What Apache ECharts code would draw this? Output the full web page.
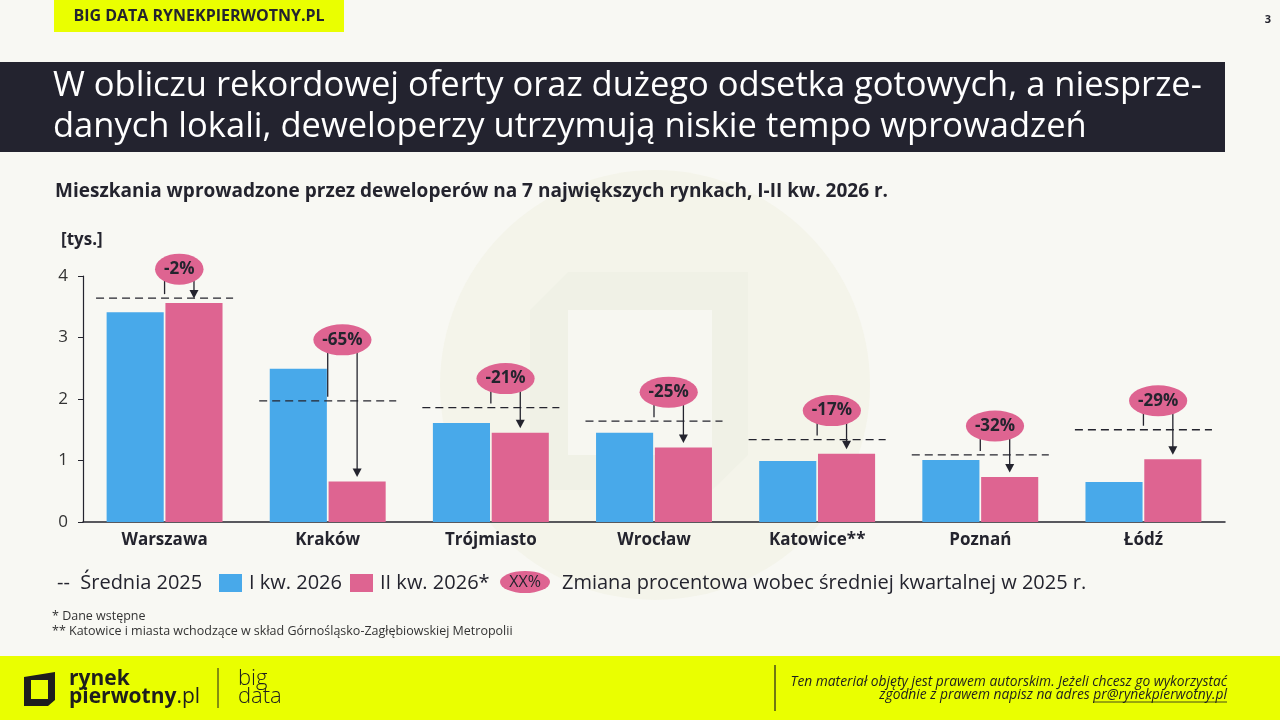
<!DOCTYPE html>
<html><head><meta charset="utf-8">
<script src="https://cdn.jsdelivr.net/npm/echarts@6/dist/echarts.min.js"></script>
<style>html,body{margin:0;padding:0;background:#F8F8F3;}#c{width:1280px;height:720px;}</style>
</head><body><div id="c"></div>
<script>
const categories = ['Warszawa','Kraków','Trójmiasto','Wrocław','Katowice**','Poznań','Łódź'];
const q1_2026 = [3.41, 2.49, 1.61, 1.45, 0.99, 1.01, 0.65];
const q2_2026 = [3.56, 0.66, 1.45, 1.21, 1.11, 0.73, 1.02];
const avg2025 = [3.64, 1.97, 1.86, 1.64, 1.34, 1.09, 1.50];
const changes = ['-2%','-65%','-21%','-25%','-17%','-32%','-29%'];
const yTicks = [0,1,2,3,4];

const FONT = "'Open Sans', 'Noto Sans', sans-serif";
const DARK = '#24242E';
const BLUE = '#48A9EA';
const PINK = '#DE6491';
const YEL = '#EAFF00';

const mctx = document.createElement('canvas').getContext('2d');
function textW(t, f){ mctx.font = f; return mctx.measureText(t).width; }

const chart = echarts.init(document.getElementById('c'));
const annData = categories.map((c,i)=>[i, avg2025[i], q1_2026[i], q2_2026[i]]);

function renderAnn(params, api){
  const i = api.value(0);
  const avg = api.value(1), b = api.value(2), p = api.value(3);
  const c0 = api.coord([i, 0]);
  const band = api.size([1,0])[0];
  const cx = c0[0];
  const bw = band*0.35;
  const pinkX = cx + (bw*1.03)/2;
  const yAvg = api.coord([i, avg])[1];
  const yB = api.coord([i, b])[1];
  const yP = api.coord([i, p])[1];
  const top = Math.min(yAvg, yB, yP);
  const by = top - 29;
  const bx = (cx + pinkX)/2;
  const label = changes[params.dataIndex];
  const f = "bold 17px " + FONT;
  const rx = textW(label, f)/2 + 9;
  const ry = 15.5;
  const stroke = {stroke: DARK, lineWidth: 1.3};
  const children = [
    {type:'line', shape:{x1:cx-band*0.42, y1:yAvg, x2:cx+band*0.42, y2:yAvg}, style:{stroke:DARK, lineWidth:1.3, lineDash:[8,5]}},
    {type:'line', shape:{x1:cx, y1:by, x2:cx, y2:yAvg-4}, style:stroke},
    {type:'line', shape:{x1:pinkX, y1:by, x2:pinkX, y2:yP-11}, style:stroke},
    {type:'polygon', shape:{points:[[pinkX-4.5, yP-13],[pinkX+4.5, yP-13],[pinkX, yP-4.5]]}, style:{fill:DARK}},
    {type:'circle', shape:{cx:0, cy:0, r:ry}, x:bx, y:by, scaleX: rx/ry, style:{fill:PINK}},
    {type:'text', x:bx, y:by, style:{text:label, font:f, fill:DARK, align:'center', verticalAlign:'middle'}}
  ];
  return {type:'group', children};
}

const W = 1280;
const IT = "italic 13.8px " + FONT;
const option = {
  backgroundColor: '#F8F8F3',
  animation: false,
  textStyle: {fontFamily: FONT},
  grid: {left: 83, right: 55, top: 276, bottom: 198, containLabel: false},
  xAxis: {
    type: 'category', data: categories,
    axisLine: {show: true, lineStyle: {color: DARK, width: 1.5}},
    axisTick: {show: false},
    axisLabel: {color: DARK, fontWeight: 'bold', fontSize: 17, margin: 10, fontFamily: FONT}
  },
  yAxis: {
    type: 'value', min: 0, max: 4, interval: 1,
    axisLine: {show: true, lineStyle: {color: DARK, width: 1.2}},
    axisTick: {show: true, length: 5, lineStyle: {color: DARK}},
    splitLine: {show: false},
    axisLabel: {color: '#333', fontSize: 17, margin: 15, fontFamily: FONT,
      formatter: v => yTicks.includes(v) ? String(v) : ''}
  },
  series: [
    {name: 'I kw. 2026', type: 'bar', data: q1_2026, barWidth: '35%', barGap: '3%', itemStyle: {color: BLUE}},
    {name: 'II kw. 2026*', type: 'bar', data: q2_2026, barWidth: '35%', barGap: '3%', itemStyle: {color: PINK}},
    {name: 'Średnia 2025', type: 'custom', data: annData, renderItem: renderAnn, clip: false, z: 5,
     encode: {x: 0, y: [1,2,3]}}
  ],
  graphic: [
    // watermark
    {type:'circle', shape:{cx:655, cy:385, r:215}, style:{fill:'#F4F4EA'}, z:-10, silent:true},
    {type:'polygon', shape:{points:[[568,272],[748,272],[748,455],[712,490],[530,490],[530,310]]}, style:{fill:'#F0F1E6'}, z:-9, silent:true},
    {type:'rect', shape:{x:568, y:310, width:144, height:145}, style:{fill:'#F7F7F1'}, z:-8, silent:true},
    // top tab
    {type:'rect', shape:{x:54, y:0, width:290, height:32}, style:{fill:YEL}},
    {type:'text', x:199, y:16, style:{text:'BIG DATA RYNEKPIERWOTNY.PL', font:"bold 16px "+FONT, fill:DARK, align:'center', verticalAlign:'middle'}},
    {type:'text', x:1268, y:20, style:{text:'3', font:"bold 11px "+FONT, fill:DARK, align:'center', verticalAlign:'middle'}},
    // title bar
    {type:'rect', shape:{x:0, y:62, width:1225, height:90}, style:{fill:'#23232F'}},
    {type:'text', x:53, y:86, style:{text:'W obliczu rekordowej oferty oraz dużego odsetka gotowych, a niesprze-', font:"34.5px "+FONT, fill:'#FFFFFF', verticalAlign:'middle'}},
    {type:'text', x:53, y:127, style:{text:'danych lokali, deweloperzy utrzymują niskie tempo wprowadzeń', font:"34.5px "+FONT, fill:'#FFFFFF', verticalAlign:'middle'}},
    // subtitle
    {type:'text', x:55, y:192, style:{text:'Mieszkania wprowadzone przez deweloperów na 7 największych rynkach, I-II kw. 2026 r.', font:"bold 19px "+FONT, fill:DARK, verticalAlign:'middle'}},
    {type:'text', x:61, y:240, style:{text:'[tys.]', font:"bold 17px "+FONT, fill:DARK, verticalAlign:'middle'}},
    // legend
    {type:'text', x:57, y:583, style:{text:'--  Średnia 2025', font:"20px "+FONT, fill:DARK, verticalAlign:'middle'}},
    {type:'rect', shape:{x:219, y:574, width:23, height:18}, style:{fill:BLUE}},
    {type:'text', x:249, y:583, style:{text:'I kw. 2026', font:"20px "+FONT, fill:DARK, verticalAlign:'middle'}},
    {type:'rect', shape:{x:350, y:574, width:23, height:18}, style:{fill:PINK}},
    {type:'text', x:380, y:583, style:{text:'II kw. 2026*', font:"20px "+FONT, fill:DARK, verticalAlign:'middle'}},
    {type:'circle', shape:{cx:0, cy:0, r:11}, x:525, y:582, scaleX:25/11, style:{fill:PINK}},
    {type:'text', x:525, y:582, style:{text:'XX%', font:"16px "+FONT, fill:DARK, align:'center', verticalAlign:'middle'}},
    {type:'text', x:562, y:583, style:{text:'Zmiana procentowa wobec średniej kwartalnej w 2025 r.', font:"20px "+FONT, fill:DARK, verticalAlign:'middle'}},
    // footnotes
    {type:'text', x:52, y:616, style:{text:'* Dane wstępne', font:"12.5px "+FONT, fill:'#333', verticalAlign:'middle'}},
    {type:'text', x:52, y:631, style:{text:'** Katowice i miasta wchodzące w skład Górnośląsko-Zagłębiowskiej Metropolii', font:"12.5px "+FONT, fill:'#333', verticalAlign:'middle'}},
    // footer
    {type:'rect', shape:{x:0, y:656, width:W, height:64}, style:{fill:YEL}},
    {type:'polygon', shape:{points:[[24,677],[55,672],[55,700],[48,706],[24,706]]}, style:{fill:'#1E1E1E'}},
    {type:'rect', shape:{x:31, y:680, width:17, height:19}, style:{fill:YEL}},
    {type:'text', x:69, y:679, style:{text:'rynek', font:"bold 21px "+FONT, fill:'#1E1E1E', verticalAlign:'middle'}},
    {type:'text', x:69, y:697, style:{rich:{a:{font:"bold 21px "+FONT, fill:'#1E1E1E'}, b:{font:"21px "+FONT, fill:'#1E1E1E'}}, text:'{a|pierwotny}{b|.pl}', verticalAlign:'middle'}},
    {type:'line', shape:{x1:218, y1:668, x2:218, y2:708}, style:{stroke:'#1E1E1E', lineWidth:1}},
    {type:'text', x:238, y:679, style:{text:'big', font:"300 22px "+FONT, fill:'#1E1E1E', verticalAlign:'middle'}},
    {type:'text', x:238, y:697, style:{text:'data', font:"300 22px "+FONT, fill:'#1E1E1E', verticalAlign:'middle'}},
    {type:'line', shape:{x1:775, y1:665, x2:775, y2:711}, style:{stroke:'#1E1E1E', lineWidth:1.2}},
    {type:'text', x:1227, y:682, style:{text:'Ten materiał objęty jest prawem autorskim. Jeżeli chcesz go wykorzystać', font:IT, fill:'#1E1E1E', align:'right', verticalAlign:'middle'}},
    {type:'text', x:1227, y:695, style:{text:'zgodnie z prawem napisz na adres pr@rynekpierwotny.pl', font:IT, fill:'#1E1E1E', align:'right', verticalAlign:'middle'}},
    {type:'line', shape:{x1:1227 - textW('pr@rynekpierwotny.pl', IT), y1:702, x2:1227, y2:702}, style:{stroke:'#1E1E1E', lineWidth:0.8}}
  ]
};
chart.setOption(option);
</script></body></html>
